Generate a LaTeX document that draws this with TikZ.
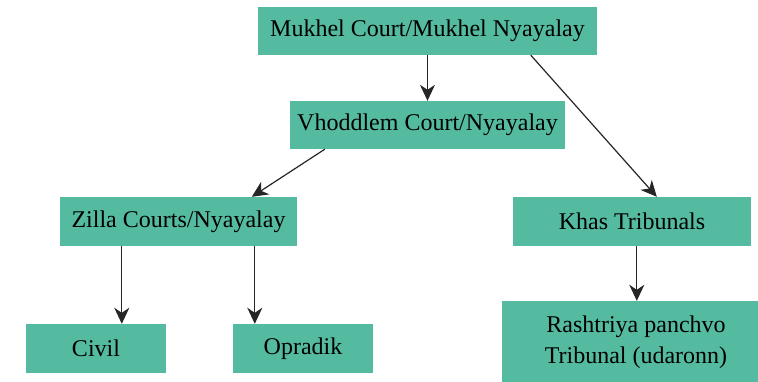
\documentclass[tikz,border=0pt]{standalone}
\usepackage{fontspec}
\setmainfont{Liberation Serif}
\usetikzlibrary{arrows.meta,calc}
\definecolor{boxgreen}{RGB}{84,187,161}
\begin{document}
\begin{tikzpicture}[x=1pt,y=-1pt,
  box/.style={rectangle,fill=boxgreen,inner sep=0pt,font=\fontsize{24}{31}\selectfont,align=center},
  arr/.style={line width=1.2pt,draw=black!85,-{Stealth[length=16pt,width=15pt,inset=5pt]}}]
\clip (0,0) rectangle (758,381);
\fill[white] (0,0) rectangle (758,381);
\node[box,minimum width=339pt,minimum height=48pt] (top) at (427.5,31) {Mukhel Court/Mukhel Nyayalay};
\node[box,minimum width=275pt,minimum height=48pt] (vh) at (427.5,125) {Vhoddlem Court/Nyayalay};
\node[box,minimum width=237pt,minimum height=49pt] (zil) at (178.5,221.5) {Zilla Courts/Nyayalay};
\node[box,minimum width=238pt,minimum height=49pt] (khas) at (632,221.5) {Khas Tribunals};
\node[box,minimum width=140pt,minimum height=49pt] (civ) at (96,348.5) {Civil};
\node[box,minimum width=140pt,minimum height=49pt] (opr) at (303,348.5) {Opradik};
\node[box,minimum width=268pt,minimum height=82pt] (ras) at (636,342) {Rashtriya panchvo\\Tribunal (udaronn)};
\draw[arr] (top.south) -- (vh.north);
\draw[arr] ([xshift=273pt]top.south west) -- ([xshift=144pt]khas.north west);
\draw[arr] ([xshift=35pt]vh.south west) -- ([xshift=192pt]zil.north west);
\draw[arr] ([xshift=62pt]zil.south west) -- ([xshift=96pt]civ.north west);
\draw[arr] ([xshift=195pt]zil.south west) -- ([xshift=22pt]opr.north west);
\draw[arr] ([xshift=124pt]khas.south west) -- ([xshift=135pt]ras.north west);
\end{tikzpicture}
\end{document}
